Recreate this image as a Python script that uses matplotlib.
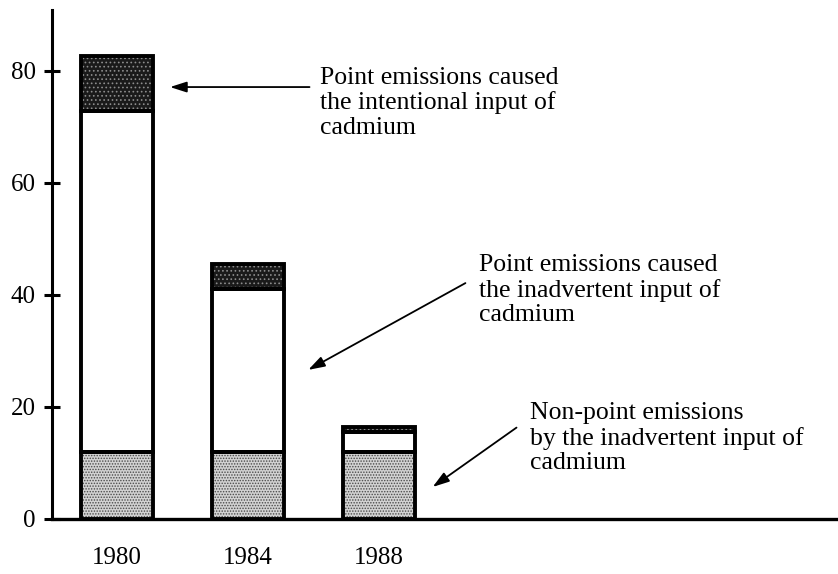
import matplotlib.pyplot as plt
import numpy as np

plt.rcParams["font.family"] = ["Liberation Serif", "DejaVu Serif"]
plt.rcParams["hatch.linewidth"] = 0.7

# data
years = ["1980", "1984", "1988"]
nonpoint = [12.0, 12.0, 12.0]      # non-point emissions, inadvertent input
inadvertent = [60.8, 29.0, 3.5]    # point emissions, inadvertent input
intentional = [9.9, 4.5, 0.9]      # point emissions, intentional input

fig = plt.figure(figsize=(8.38, 5.74), dpi=100)
fig.patch.set_facecolor("white")
ax = fig.add_axes([0.062, 0.096, 0.938, 0.887])

x = np.arange(len(years))
w = 0.55
nonpoint = np.array(nonpoint)
inadvertent = np.array(inadvertent)
intentional = np.array(intentional)

# segments: (values, bottoms, face, hatch, hatch colour)
segments = [
    (nonpoint, 0, "#d2d2d2", "......", "#4a4a4a"),
    (inadvertent, nonpoint, "white", None, "white"),
    (intentional, nonpoint + inadvertent, "#1a1a1a", "....", "#8c8c8c"),
]
for vals, bot, face, hatch, hcol in segments:
    # fill + hatch (hatch takes the edge colour), then the black outline
    ax.bar(x, vals, w, bottom=bot, color=face, edgecolor=hcol,
           hatch=hatch, linewidth=0, zorder=2)
    ax.bar(x, vals, w, bottom=bot, fill=False, edgecolor="black",
           linewidth=2.8, zorder=3)

ax.set_xlim(-0.496, 5.504)
ax.set_ylim(0, 90.9)

for s in ["top", "right"]:
    ax.spines[s].set_visible(False)
ax.spines["left"].set_linewidth(2.2)
ax.spines["bottom"].set_linewidth(2.4)

ax.set_yticks([0, 20, 40, 60, 80])
ax.tick_params(axis="y", direction="inout", length=11, width=2.2,
               labelsize=18, pad=6)
ax.set_xticks(x)
ax.set_xticklabels(years)
ax.tick_params(axis="x", length=0, labelsize=18, pad=20)

# annotations
txt_kw = dict(fontsize=18.5, ha="left", va="center", linespacing=1.15,
              color="black")
arr_kw = dict(arrowstyle="-|>,head_length=1.0,head_width=0.32",
              color="black", lw=1.3, shrinkA=0, shrinkB=0)

ax.text(1.55, 74.3, "Point emissions caused\nthe intentional input of\ncadmium",
        **txt_kw)
ax.annotate("", xy=(0.405, 77.1), xytext=(1.47, 77.1), arrowprops=arr_kw)

ax.text(2.76, 40.8, "Point emissions caused\nthe inadvertent input of\ncadmium",
        **txt_kw)
ax.annotate("", xy=(1.46, 26.6), xytext=(2.66, 42.1), arrowprops=arr_kw)

ax.text(3.15, 14.4, "Non-point emissions\nby the inadvertent input of\ncadmium",
        **txt_kw)
ax.annotate("", xy=(2.41, 5.7), xytext=(3.05, 16.3), arrowprops=arr_kw)

fig.savefig("out.png", dpi=100, facecolor="white")
